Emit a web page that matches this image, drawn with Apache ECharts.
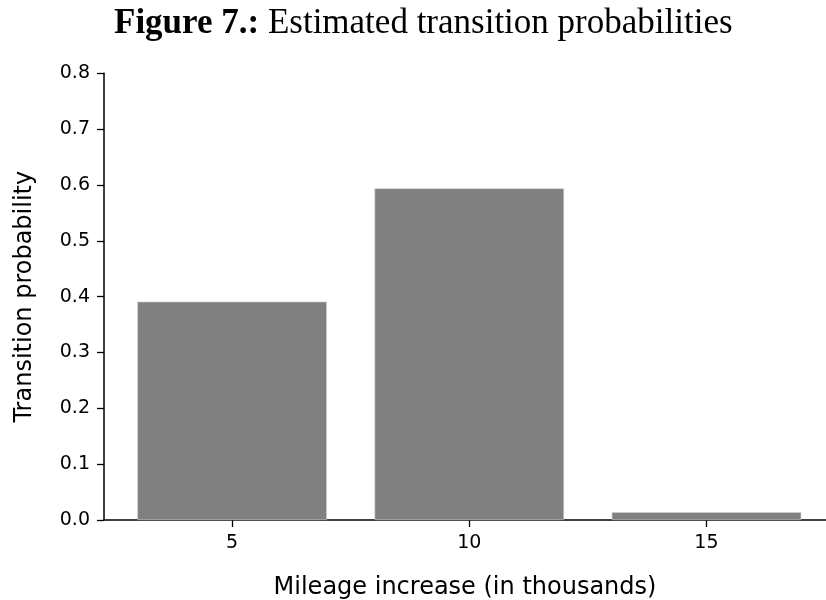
<!DOCTYPE html>
<html>
<head>
<meta charset="utf-8">
<script src="https://cdn.jsdelivr.net/npm/echarts@6/dist/echarts.min.js"></script>
<style>
html,body{margin:0;padding:0;background:#fff;}
#chart{width:826px;height:600px;}
</style>
</head>
<body>
<div id="chart"></div>
<script>
const mileage = [5, 10, 15];
const probabilities = [0.391, 0.594, 0.014];
const yTicks = [0, 0.1, 0.2, 0.3, 0.4, 0.5, 0.6, 0.7, 0.8];
const titleBold = 'Figure 7.:';
const titleRest = ' Estimated transition probabilities';
const xName = 'Mileage increase (in thousands)';
const yName = 'Transition probability';

const chart = echarts.init(document.getElementById('chart'), null, {renderer: 'canvas'});
const sansFont = '"DejaVu Sans", sans-serif';
chart.setOption({
  animation: false,
  backgroundColor: '#ffffff',
  title: {
    text: '{b|' + titleBold + '}{r|' + titleRest + '}',
    left: 109,
    top: 1,
    textStyle: {
      rich: {
        b: {fontFamily: '"Liberation Serif", serif', fontWeight: 'bold', fontSize: 35, color: '#000'},
        r: {fontFamily: '"Liberation Serif", serif', fontWeight: 'normal', fontSize: 35, color: '#000'}
      }
    }
  },
  grid: {left: 104, top: 73.3, right: 0, bottom: 80, containLabel: false, outerBoundsMode: 'none'},
  xAxis: {
    type: 'value',
    min: 2.3,
    max: 17.52,
    name: xName,
    nameLocation: 'middle',
    nameGap: 56,
    nameTextStyle: {fontFamily: sansFont, fontSize: 24, color: '#000'},
    axisLine: {show: true, lineStyle: {color: '#000', width: 1.5}},
    axisTick: {show: true, customValues: mileage, length: 7, lineStyle: {color: '#000', width: 1.3}},
    axisLabel: {customValues: mileage, fontFamily: sansFont, fontSize: 19, color: '#000', margin: 14},
    splitLine: {show: false}
  },
  yAxis: {
    type: 'value',
    min: 0,
    max: 0.8,
    interval: 0.1,
    name: yName,
    nameLocation: 'middle',
    nameGap: 67,
    nameTextStyle: {fontFamily: sansFont, fontSize: 24, color: '#000'},
    axisLine: {show: true, lineStyle: {color: '#000', width: 1.5}},
    axisTick: {show: true, length: 7, lineStyle: {color: '#000', width: 1.3}},
    axisLabel: {fontFamily: sansFont, fontSize: 19, color: '#000', margin: 14,
      formatter: v => v.toFixed(1)},
    splitLine: {show: false}
  },
  series: [{
    type: 'bar',
    data: mileage.map((m, i) => [m, probabilities[i]]),
    barWidth: 189.5,
    itemStyle: {color: '#808080', borderColor: '#d0d0d0', borderWidth: 0.6}
  }]
});
</script>
</body>
</html>
